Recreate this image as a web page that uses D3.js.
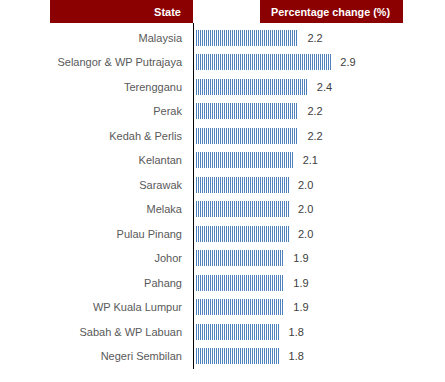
<!DOCTYPE html>
<html><head><meta charset="utf-8">
<script src="https://cdn.jsdelivr.net/npm/d3@7"></script>
<style>body{margin:0;background:#fff}</style>
</head><body>
<script>
const states = ["Malaysia","Selangor & WP Putrajaya","Terengganu","Perak","Kedah & Perlis","Kelantan","Sarawak","Melaka","Pulau Pinang","Johor","Pahang","WP Kuala Lumpur","Sabah & WP Labuan","Negeri Sembilan"];
const values = [2.2,2.9,2.4,2.2,2.2,2.1,2.0,2.0,2.0,1.9,1.9,1.9,1.8,1.8];
const headers = ["State","Percentage change (%)"];

const W=445,H=382;
const svg=d3.select("body").append("svg").attr("width",W).attr("height",H);
const defs=svg.append("defs");
const pat=defs.append("pattern").attr("id","stripe").attr("patternUnits","userSpaceOnUse")
  .attr("x",0).attr("y",0).attr("width",2).attr("height",4);
pat.append("rect").attr("x",0).attr("y",0).attr("width",1).attr("height",4).attr("fill","#4f81bd").attr("shape-rendering","crispEdges");

const x=d3.scaleLinear().domain([0,3]).range([195,336]);
const y=d3.scaleBand().domain(states).range([22.66,371.3]).paddingInner(0.346).paddingOuter(0.3);

// headers
svg.append("rect").attr("x",50).attr("y",0).attr("width",143).attr("height",23).attr("fill","#8b0000");
svg.append("rect").attr("x",260).attr("y",0).attr("width",143).attr("height",23).attr("fill","#8b0000");
svg.append("text").attr("x",181).attr("y",15.5).attr("text-anchor","end").attr("fill","#fff")
  .attr("font-family","Liberation Sans, Arial, sans-serif").attr("font-weight","bold").attr("font-size",11).text(headers[0]);
svg.append("text").attr("x",271).attr("y",15.5).attr("fill","#fff")
  .attr("font-family","Liberation Sans, Arial, sans-serif").attr("font-weight","bold").attr("font-size",11)
  .attr("textLength",119).attr("lengthAdjust","spacingAndGlyphs").text(headers[1]);

// bars
svg.selectAll("rect.bar").data(values).join("rect").attr("class","bar")
  .attr("x",x(0)).attr("y",(d,i)=>Math.round(y(states[i]))).attr("width",d=>Math.round(x(d)-x(0))).attr("height",16)
  .attr("fill","url(#stripe)").attr("shape-rendering","crispEdges");

// value labels
svg.selectAll("text.val").data(values).join("text").attr("class","val")
  .attr("x",d=>x(d)+9).attr("y",(d,i)=>y(states[i])+y.bandwidth()/2+4)
  .attr("fill","#404040").attr("font-family","Liberation Sans, Arial, sans-serif").attr("font-size",11)
  .text(d=>d.toFixed(1));

// category labels
svg.selectAll("text.cat").data(states).join("text").attr("class","cat")
  .attr("x",182).attr("y",d=>y(d)+y.bandwidth()/2+4).attr("text-anchor","end")
  .attr("fill","#595959").attr("font-family","Liberation Sans, Arial, sans-serif").attr("font-size",11)
  .text(d=>d);

// axis line
svg.append("line").attr("x1",193.5).attr("x2",193.5).attr("y1",23).attr("y2",369).attr("stroke","#000").attr("stroke-width",1);
</script>
</body></html>
